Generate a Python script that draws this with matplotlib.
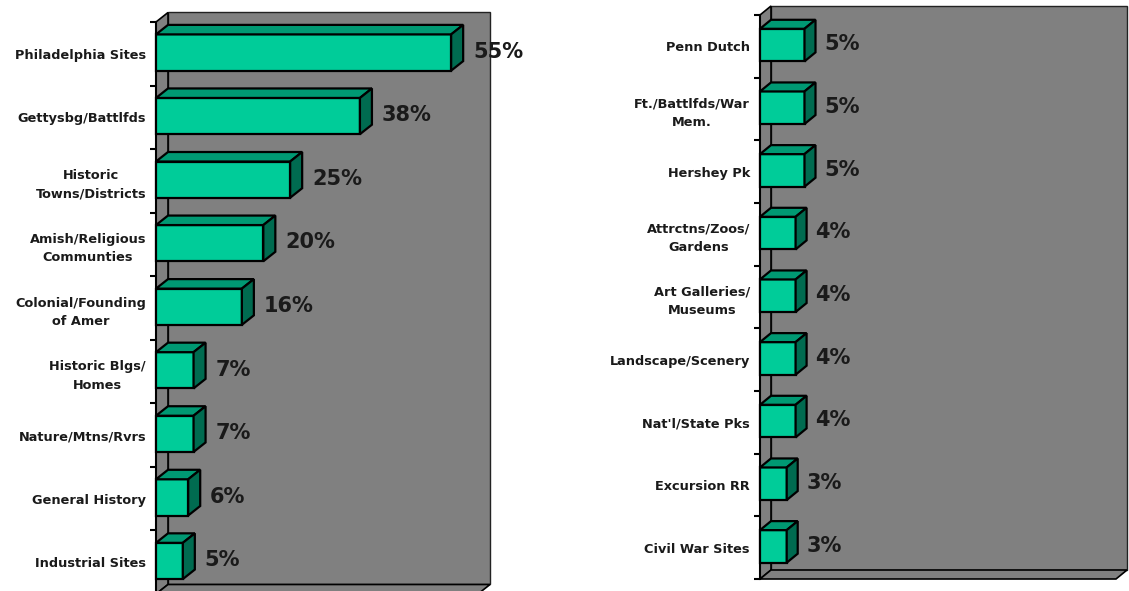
import matplotlib
matplotlib.use('Agg')
import matplotlib.pyplot as plt
from matplotlib.patches import Polygon, Rectangle

# Left chart
left_cats = ["Philadelphia Sites", "Gettysbg/Battlfds", "Historic\nTowns/Districts",
             "Amish/Religious\nCommunties", "Colonial/Founding\nof Amer",
             "Historic Blgs/\nHomes", "Nature/Mtns/Rvrs", "General History",
             "Industrial Sites"]
left_vals = [55, 38, 25, 20, 16, 7, 7, 6, 5]

# Right chart
right_cats = ["Penn Dutch", "Ft./Battlfds/War\nMem.", "Hershey Pk",
              "Attrctns/Zoos/\nGardens", "Art Galleries/\nMuseums",
              "Landscape/Scenery", "Nat'l/State Pks", "Excursion RR",
              "Civil War Sites"]
right_vals = [5, 5, 5, 4, 4, 4, 4, 3, 3]

c_front = '#00CC99'
c_top = '#009973'
c_side = '#006B50'
c_wall = '#808080'
W, H = 1129, 591


def draw_panel(ax, cats, vals, xmax, dx_px, dy_px, bar_h, gap):
    n = len(cats)
    ax.set_xlim(0, xmax)
    ax.set_ylim(n, 0)
    ax.patch.set_visible(False)

    # depth offset of the 3D box, converted from pixels to data units
    p0 = ax.transData.transform((0, 0))
    ddx, ddy = ax.transData.inverted().transform((p0[0] + dx_px, p0[1] + dy_px))

    kw = dict(clip_on=False, joinstyle='miter')
    ax.add_patch(Polygon([(ddx, ddy), (xmax + ddx, ddy), (xmax + ddx, n + ddy), (ddx, n + ddy)],
                         fc=c_wall, ec='#222222', lw=1.0, zorder=1, **kw))
    ax.add_patch(Polygon([(0, 0), (ddx, ddy), (ddx, n + ddy), (0, n)],
                         fc=c_wall, ec='black', lw=1.2, zorder=1.1, **kw))
    ax.add_patch(Polygon([(0, n), (xmax, n), (xmax + ddx, n + ddy), (ddx, n + ddy)],
                         fc=c_wall, ec='black', lw=1.2, zorder=1.1, **kw))

    for i, v in enumerate(vals):
        y0 = i + 0.5 - bar_h / 2 - 0.02
        y1 = y0 + bar_h
        ax.add_patch(Rectangle((0, y0), v, bar_h, fc=c_front, ec='black', lw=1.6,
                               zorder=3, **kw))
        ax.add_patch(Polygon([(0, y0), (v, y0), (v + ddx, y0 + ddy), (ddx, y0 + ddy)],
                             fc=c_top, ec='black', lw=1.6, zorder=3, **kw))
        ax.add_patch(Polygon([(v, y0), (v + ddx, y0 + ddy), (v + ddx, y1 + ddy), (v, y1)],
                             fc=c_side, ec='black', lw=1.6, zorder=3, **kw))
        ax.annotate(f"{v}%", xy=(v, i + 0.5), xytext=(dx_px + gap, 2),
                    textcoords='offset pixels', va='center', ha='left',
                    fontsize=15, fontweight='bold', color='#1a1a1a',
                    annotation_clip=False)

    for s in ['top', 'right', 'bottom']:
        ax.spines[s].set_visible(False)
    ax.spines['left'].set_linewidth(1.5)
    ax.spines['left'].set_zorder(2)
    ax.set_xticks([])
    ax.set_yticks(range(n + 1))
    ax.set_yticks([i + 0.5 for i in range(n)], labels=cats, minor=True)
    ax.tick_params(axis='y', which='major', length=4, width=1.5, direction='out',
                   labelleft=False)
    ax.tick_params(axis='y', which='minor', length=0, pad=7.2)
    for lab in ax.get_yticklabels(minor=True):
        lab.set_fontsize(9.3)
        lab.set_fontweight('bold')
        lab.set_multialignment('center')
        lab.set_linespacing(1.55)
        lab.set_color('#1a1a1a')


fig = plt.figure(figsize=(W / 100, H / 100), dpi=100)
fig.patch.set_facecolor('white')

ax1 = fig.add_axes([156 / W, (H - 594) / H, (478 - 156) / W, (594 - 22) / H])
draw_panel(ax1, left_cats, left_vals, 60, 12, 9.5, 0.57, 10)

ax2 = fig.add_axes([760 / W, (H - 579) / H, (1116 - 760) / W, (579 - 15) / H])
draw_panel(ax2, right_cats, right_vals, 40, 11, 9, 0.52, 9)

fig.savefig('out.png', dpi=100, facecolor='white')
plt.close(fig)
